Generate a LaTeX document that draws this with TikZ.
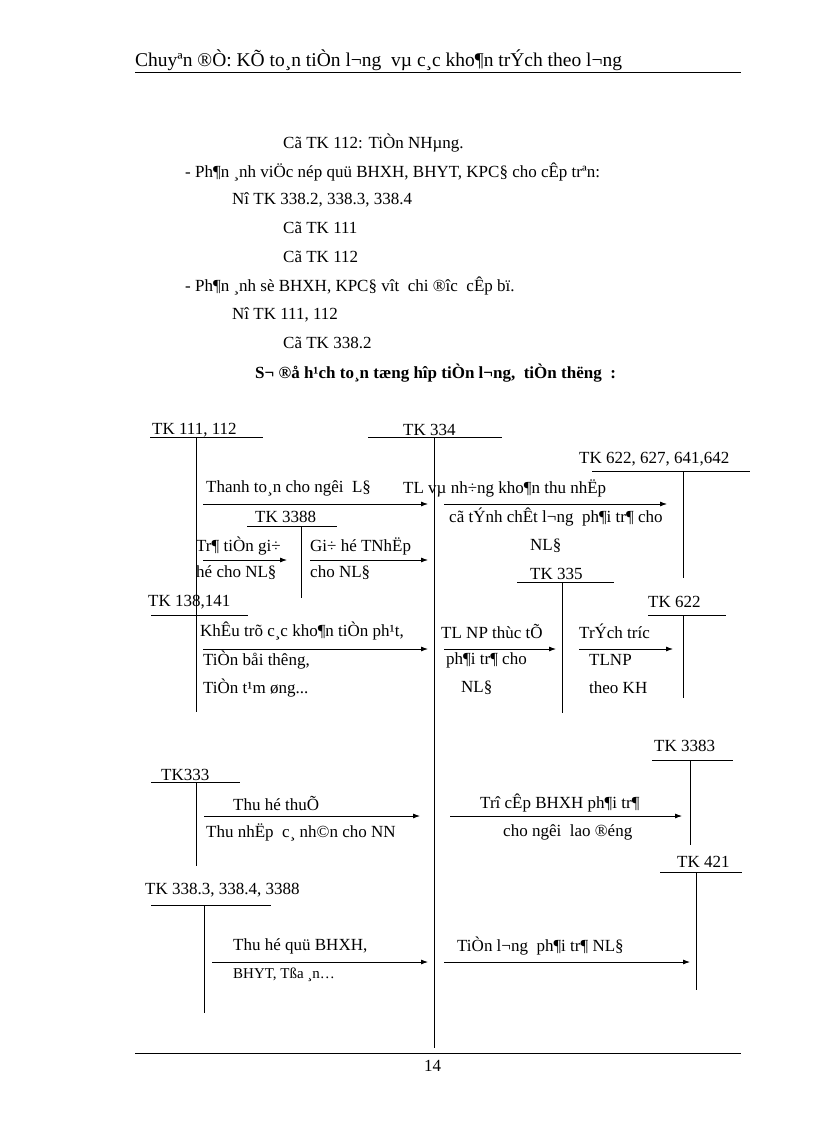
\documentclass[tikz,border=0pt]{standalone}
\usepackage{fontspec}
\setmainfont{Liberation Serif}
\usetikzlibrary{arrows.meta}
\begin{document}
\begin{tikzpicture}[x=1pt,y=-1pt,
  t/.style={anchor=west,inner sep=0pt,font=\fontsize{17}{19}\selectfont},
  ln/.style={line width=0.8pt},
  ar/.style={line width=0.8pt,-{Latex[length=7pt,width=5pt]}}]
\useasboundingbox (0,0) rectangle (816,1123);
% header
\node[t,font=\fontsize{19.5}{21}\selectfont] (hd) at (135,60) {Chuyªn ®Ò: KÕ to¸n tiÒn l¬ng\ \ vµ c¸c kho¶n trÝch theo l¬ng};
\draw[ln] (135,72) -- (741,72);
\node[t] (l1) at (283,143) {Cã TK 112: TiÒn NHµng.};
\node[t] (l2) at (185,172) {- Ph¶n ¸nh viÖc nép quü BHXH, BHYT, KPC§ cho cÊp trªn:};
\node[t] (l3) at (232,200) {Nî TK 338.2, 338.3, 338.4};
\node[t] (l4) at (283,228) {Cã TK 111};
\node[t] (l5) at (283,257) {Cã TK 112};
\node[t] (l6) at (185,286) {- Ph¶n ¸nh sè BHXH, KPC§ vît\ \ chi ®îc\ \ cÊp bï.};
\node[t] (l7) at (232,315) {Nî TK 111, 112};
\node[t] (l8) at (283,343) {Cã TK 338.2};
\node[t,font=\fontsize{17}{19}\selectfont\bfseries] (l9) at (255,373) {S¬ ®å h¹ch to¸n tæng hîp tiÒn l¬ng,\ \ tiÒn thëng\ \ :};
% accounts
\node[t] (a111) at (152,430) {TK 111, 112};
\draw[ln] (150,437) -- (263,437); \draw[ln] (196,437) -- (196,712);
\node[t] (a334) at (403,430) {TK 334};
\draw[ln] (368,437) -- (502,437); \draw[ln] (434,437) -- (434,1048);
\node[t] (a622a) at (579,459) {TK 622, 627, 641,642};
\draw[ln] (592,471) -- (750,471); \draw[ln] (683,471) -- (683,578);
\node[t] (a3388) at (255,517) {TK 3388};
\draw[ln] (247,526) -- (337,526); \draw[ln] (301,526) -- (301,598);
\node[t] (a335) at (530,574) {TK 335};
\draw[ln] (517,582) -- (614,582); \draw[ln] (562,582) -- (562,713);
\node[t] (a138) at (148,602) {TK 138,141};
\draw[ln] (151,615) -- (248,615);
\node[t] (a622) at (648,602) {TK 622};
\draw[ln] (648,615) -- (726,615); \draw[ln] (683,615) -- (683,698);
\node[t] (a3383) at (654,746) {TK 3383};
\draw[ln] (652,760) -- (733,760); \draw[ln] (690,760) -- (690,845);
\node[t] (a333) at (161,775) {TK333};
\draw[ln] (151,782) -- (240,782); \draw[ln] (196,782) -- (196,866);
\node[t] (a421) at (677,862) {TK 421};
\draw[ln] (660,872) -- (742,872); \draw[ln] (696,872) -- (696,990);
\node[t] (a3383b) at (145,890) {TK 338.3, 338.4, 3388};
\draw[ln] (151,905) -- (271,905); \draw[ln] (204,905) -- (204,1013);
% arrows and labels
\draw[ar] (203,504) -- (428,504);
\node[t] (m1) at (206,488) {Thanh\ to¸n cho ngêi\ \ L§};
\node[t] (m2) at (403,488) {TL\ vµ\ nh÷ng kho¶n thu nhËp};
\draw[ar] (444,504) -- (667,504);
\node[t] (m3) at (449,517) {cã tÝnh chÊt l¬ng\ \ ph¶i tr¶ cho};
\node[t] (m4) at (530,546) {NL§};
\node[t] (m5) at (196,546) {Tr¶ tiÒn gi÷};
\draw[ar] (203,560) -- (287,560);
\node[t] (m6) at (196,573) {hé cho NL§};
\node[t] (m7) at (310,546) {Gi÷ hé TNhËp};
\draw[ar] (310,560) -- (428,560);
\node[t] (m8) at (310,573) {cho NL§};
\node[t] (m9) at (200,631) {KhÊu trõ c¸c kho¶n tiÒn ph¹t,};
\draw[ar] (203,649) -- (428,649);
\node[t] (m10) at (203,660) {TiÒn båi thêng,};
\node[t] (m11) at (203,688) {TiÒn t¹m øng...};
\node[t] (m12) at (441,631) {TL NP thùc tÕ};
\draw[ar] (444,649) -- (556,649);
\node[t] (m13) at (446,660) {ph¶i tr¶ cho};
\node[t] (m14) at (461,688) {NL§};
\node[t] (m15) at (579,631) {TrÝch tríc};
\draw[ar] (579,649) -- (673,649);
\node[t] (m16) at (589,660) {TLNP};
\node[t] (m17) at (589,688) {theo KH};
\node[t] (m18) at (233,803) {Thu hé thuÕ};
\draw[ar] (204,816) -- (420,816);
\node[t] (m19) at (206,832) {Thu nhËp\ \ c¸ nh©n cho NN};
\node[t] (m20) at (480,803) {Trî cÊp BHXH ph¶i tr¶};
\draw[ar] (450,816) -- (682,816);
\node[t] (m21) at (503,832) {cho ngêi\ \ lao ®éng};
\node[t] (m22) at (233,946) {Thu hé quü BHXH,};
\draw[ar] (212,962) -- (428,962);
\node[t,font=\fontsize{15}{17}\selectfont] (m23) at (233,975) {BHYT,\ Tßa ¸n…};
\node[t] (m24) at (457,946) {TiÒn l¬ng\ \ ph¶i tr¶\ NL§};
\draw[ar] (444,962) -- (690,962);
% footer
\draw[ln] (135,1053) -- (741,1053);
\node[t] (pg) at (424,1066) {14};
\end{tikzpicture}
\end{document}
